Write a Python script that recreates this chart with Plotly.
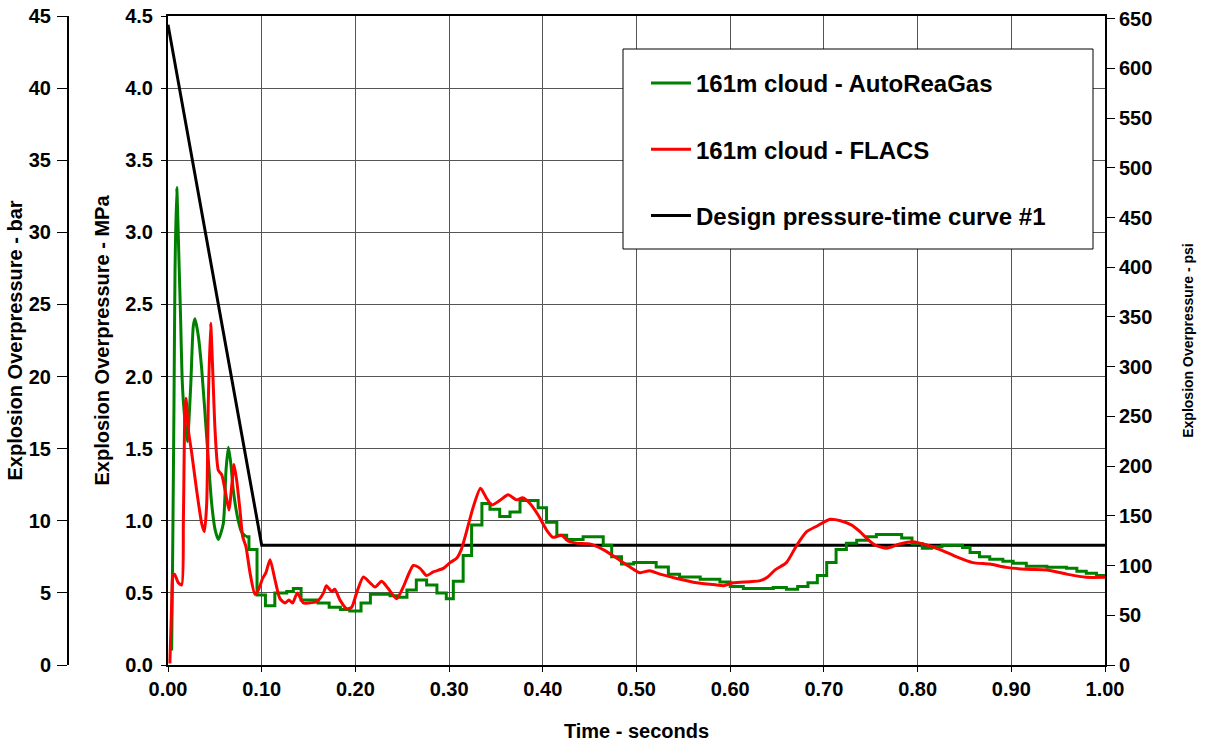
import plotly.graph_objects as go

# time in seconds, overpressure in MPa
AUTO_SMOOTH_T = [0.0039, 0.005, 0.0064, 0.0075, 0.0093, 0.012, 0.0135, 0.015, 0.0165, 0.0206,
                 0.0242, 0.027, 0.0288, 0.0324, 0.036, 0.0413, 0.0466, 0.0502, 0.0537, 0.059,
                 0.0619, 0.0644, 0.067, 0.0697, 0.075, 0.0786, 0.0832]
AUTO_SMOOTH_P = [0.10, 0.78, 1.82, 2.74, 3.31, 2.74, 2.39, 2.00, 1.82, 1.55,
                 1.93, 2.35, 2.40, 2.28, 2.05, 1.58, 1.12, 0.94, 0.87, 0.98,
                 1.35, 1.51, 1.40, 1.21, 1.00, 0.92, 0.89]

# stepped part of the AutoReaGas trace (value holds until next time)
AUTO_STEP_T = [0.0832, 0.0864, 0.095, 0.104, 0.114, 0.1267, 0.1338, 0.142, 0.160, 0.172,
               0.184, 0.194, 0.206, 0.216, 0.237, 0.245, 0.255, 0.265, 0.276, 0.287,
               0.297, 0.3045, 0.315, 0.324, 0.335, 0.3436, 0.354, 0.365, 0.3757, 0.395,
               0.404, 0.415, 0.4255, 0.443, 0.4645, 0.4735, 0.484, 0.497, 0.521, 0.534,
               0.546, 0.568, 0.589, 0.600, 0.614, 0.646, 0.660, 0.672, 0.683, 0.693,
               0.703, 0.713, 0.724, 0.735, 0.746, 0.756, 0.783, 0.794, 0.805, 0.815,
               0.826, 0.848, 0.856, 0.866, 0.877, 0.891, 0.902, 0.916, 0.938, 0.959,
               0.970, 0.980, 0.991, 1.000]
AUTO_STEP_P = [0.89, 0.80, 0.485, 0.41, 0.50, 0.51, 0.53, 0.45, 0.43, 0.40,
               0.385, 0.375, 0.43, 0.49, 0.48, 0.47, 0.52, 0.59, 0.555, 0.50,
               0.46, 0.58, 0.76, 0.97, 1.12, 1.08, 1.03, 1.06, 1.14, 1.09,
               0.99, 0.90, 0.87, 0.89, 0.83, 0.75, 0.70, 0.71, 0.68, 0.63,
               0.61, 0.595, 0.575, 0.545, 0.53, 0.537, 0.525, 0.545, 0.57, 0.62,
               0.71, 0.80, 0.845, 0.865, 0.89, 0.905, 0.88, 0.84, 0.81, 0.82,
               0.83, 0.815, 0.78, 0.75, 0.733, 0.72, 0.705, 0.685, 0.677, 0.67,
               0.65, 0.636, 0.62, 0.612]

FLACS_T = [0.002, 0.004, 0.005, 0.007, 0.011, 0.0146, 0.0164, 0.018, 0.0192, 0.0217,
           0.0253, 0.0306, 0.036, 0.0388, 0.0413, 0.043, 0.0455, 0.0477, 0.0502, 0.0537,
           0.0573, 0.061, 0.065, 0.068, 0.0704, 0.0733, 0.0768, 0.0797, 0.0832, 0.0875,
           0.0928, 0.0964, 0.101, 0.1045, 0.1089, 0.1142, 0.1195, 0.125, 0.129, 0.133,
           0.138, 0.1445, 0.150, 0.159, 0.166, 0.169, 0.1747, 0.178, 0.1836, 0.1907,
           0.196, 0.2013, 0.2085, 0.2156, 0.221, 0.228, 0.235, 0.244, 0.251, 0.2618,
           0.269, 0.276, 0.283, 0.2938, 0.301, 0.308, 0.313, 0.3188, 0.326, 0.3335,
           0.340, 0.3455, 0.354, 0.363, 0.372, 0.3785, 0.3863, 0.395, 0.404, 0.411,
           0.420, 0.427, 0.436, 0.450, 0.4645, 0.479, 0.493, 0.5037, 0.514, 0.525,
           0.543, 0.564, 0.5856, 0.593, 0.603, 0.621, 0.632, 0.640, 0.648, 0.660,
           0.671, 0.6816, 0.6927, 0.7066, 0.7177, 0.7297, 0.7385, 0.7474, 0.7545, 0.767,
           0.781, 0.795, 0.810, 0.824, 0.8417, 0.859, 0.877, 0.895, 0.9164, 0.9378,
           0.959, 0.980, 1.000]
FLACS_P = [0.01, 0.45, 0.61, 0.63, 0.57, 0.555, 1.00, 1.75, 1.85, 1.63,
           1.47, 1.21, 0.98, 0.925, 1.12, 1.82, 2.37, 2.05, 1.63, 1.35,
           1.32, 1.21, 1.075, 1.24, 1.39, 1.28, 1.075, 0.89, 0.82, 0.64,
           0.49, 0.52, 0.60, 0.64, 0.73, 0.59, 0.46, 0.43, 0.45, 0.43,
           0.50, 0.43, 0.43, 0.44, 0.50, 0.55, 0.51, 0.525, 0.45, 0.39,
           0.40, 0.50, 0.61, 0.57, 0.54, 0.58, 0.53, 0.46, 0.54, 0.69,
           0.67, 0.62, 0.645, 0.67, 0.71, 0.74, 0.80, 0.93, 1.10, 1.225,
           1.156, 1.11, 1.14, 1.18, 1.145, 1.16, 1.12, 1.04, 0.936, 0.885,
           0.90, 0.86, 0.845, 0.84, 0.80, 0.74, 0.68, 0.64, 0.654, 0.63,
           0.60, 0.57, 0.555, 0.55, 0.57, 0.578, 0.585, 0.61, 0.66, 0.71,
           0.83, 0.924, 0.964, 1.01, 1.00, 0.97, 0.924, 0.867, 0.832, 0.81,
           0.84, 0.855, 0.832, 0.80, 0.75, 0.71, 0.70, 0.677, 0.664, 0.659,
           0.63, 0.608, 0.608]

DESIGN_T = [0.0, 0.10, 1.00]
DESIGN_P = [4.44, 0.83, 0.83]

MPA_TO_PSI = 145.0377
MPA_TO_BAR = 10.0
FONT = "Liberation Sans, Arial, sans-serif"
BOLD = dict(family=FONT, size=20, color="black", weight="bold")
TITLE = dict(family=FONT, size=20, color="black", weight="bold")
GRID = "#555555"

# target pixel positions in the page (body margin is removed below)
W, H = 1214, 747
PLOT_L, PLOT_R, PLOT_T, PLOT_B = 168, 1105, 16, 665
ML, MR = 20, 20
MT = PLOT_T
MB = H - PLOT_B
PW = W - ML - MR
PH = H - MT - MB


def px_x(p):
    return (p - ML) / PW


def px_y(p):
    return (H - MB - p) / PH


fig = go.Figure()
fig.add_trace(go.Scatter(
    x=DESIGN_T, y=DESIGN_P, mode="lines", name="Design pressure-time curve #1",
    line=dict(color="black", width=3), legendrank=3, legendgroup="design",
))
fig.add_trace(go.Scatter(
    x=AUTO_SMOOTH_T, y=AUTO_SMOOTH_P, mode="lines", name="161m cloud - AutoReaGas",
    line=dict(color="#008000", width=3, shape="spline", smoothing=0.6),
    legendrank=1, legendgroup="auto",
))
fig.add_trace(go.Scatter(
    x=AUTO_STEP_T, y=AUTO_STEP_P, mode="lines", name="161m cloud - AutoReaGas",
    line=dict(color="#008000", width=3, shape="hv"),
    legendgroup="auto", showlegend=False,
))
fig.add_trace(go.Scatter(
    x=FLACS_T, y=FLACS_P, mode="lines", name="161m cloud - FLACS",
    line=dict(color="#FF0000", width=3, shape="spline", smoothing=0.6),
    legendrank=2, legendgroup="flacs",
))
# the design curve again in psi and bar, invisible, so the extra scales get drawn
fig.add_trace(go.Scatter(
    x=DESIGN_T, y=[p * MPA_TO_PSI for p in DESIGN_P], yaxis="y2", mode="lines",
    line=dict(width=0), opacity=0, showlegend=False, hoverinfo="skip",
))
fig.add_trace(go.Scatter(
    x=DESIGN_T, y=[p * MPA_TO_BAR for p in DESIGN_P], yaxis="y3", mode="lines",
    line=dict(width=0), opacity=0, showlegend=False, hoverinfo="skip",
))

fig.update_layout(
    width=W, height=H,
    margin=dict(l=ML, r=MR, t=MT, b=MB, autoexpand=False),
    paper_bgcolor="white", plot_bgcolor="white",
    font=dict(family=FONT, color="black"),
    xaxis=dict(
        domain=[px_x(PLOT_L), px_x(PLOT_R)], range=[0, 1], dtick=0.1, tickformat=".2f",
        showgrid=True, gridcolor=GRID, gridwidth=1, zeroline=False,
        showline=True, linecolor="black", linewidth=2, mirror=True,
        ticks="outside", ticklen=5, tickcolor="black", tickfont=BOLD,
        automargin=False, ticklabeloverflow="allow",
        title=dict(text="Time - seconds", font=TITLE, standoff=25),
    ),
    yaxis=dict(
        range=[0, 4.5], dtick=0.5, tickformat=".1f",
        showgrid=True, gridcolor=GRID, gridwidth=1, zeroline=False,
        showline=True, linecolor="black", linewidth=2,
        ticks="outside", ticklen=5, tickcolor="black", tickfont=BOLD,
        ticklabelstandoff=4, automargin=False, ticklabeloverflow="allow",
        title=dict(text="Explosion Overpressure - MPa", font=TITLE, standoff=10),
    ),
    yaxis2=dict(
        overlaying="y", side="right", anchor="x",
        range=[0, 4.5 * MPA_TO_PSI], dtick=50, showgrid=False, zeroline=False,
        showline=True, linecolor="black", linewidth=2,
        ticks="outside", ticklen=8, tickcolor="black", tickfont=BOLD,
        automargin=False, ticklabeloverflow="allow",
        title=dict(text="Explosion Overpressure - psi",
                   font=dict(family=FONT, size=14, color="black", weight="bold"),
                   standoff=32),
    ),
    yaxis3=dict(
        overlaying="y", side="left", anchor="free", position=px_x(68),
        range=[0, 45], dtick=5, showgrid=False, zeroline=False,
        showline=True, linecolor="black", linewidth=2,
        ticks="outside", ticklen=10, tickcolor="black", tickfont=BOLD,
        ticklabelstandoff=2, automargin=False, ticklabeloverflow="allow",
        title=dict(text="Explosion Overpressure - bar", font=TITLE, standoff=0),
    ),
    showlegend=True,
    legend=dict(
        x=px_x(646), y=px_y(61), xanchor="left", yanchor="top",
        bgcolor="rgba(0,0,0,0)", borderwidth=0,
        font=dict(family=FONT, size=24, color="black", weight="bold"),
        tracegroupgap=32, itemwidth=40, traceorder="grouped",
    ),
    shapes=[dict(
        type="rect", xref="paper", yref="paper", layer="above",
        x0=px_x(623), x1=px_x(1093), y0=px_y(249), y1=px_y(49),
        fillcolor="white", line=dict(color="black", width=1),
    )],
)

# drop the browser's default 8px body margin so the figure sits at the page origin
fig.write_html(
    "out.html",
    config={"displayModeBar": False},
    post_script="document.body.style.margin = '0px';",
)
